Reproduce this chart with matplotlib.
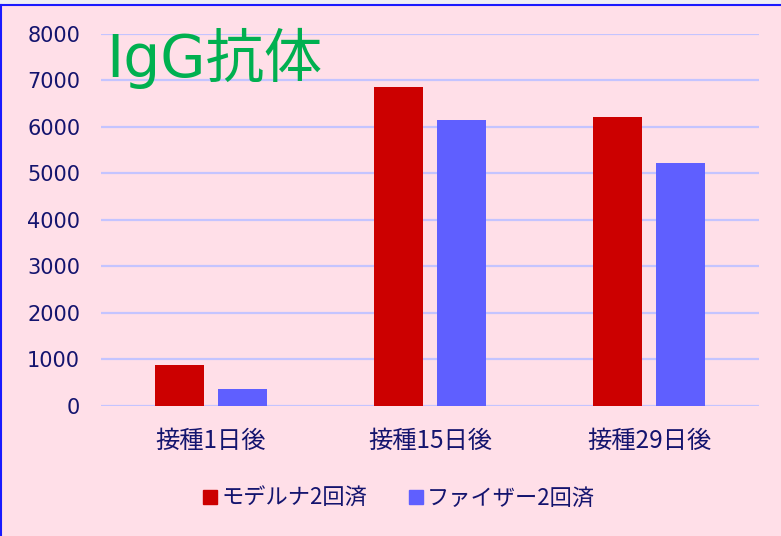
import numpy as np
import matplotlib
matplotlib.use("Agg")
import matplotlib.pyplot as plt
from matplotlib.lines import Line2D
from matplotlib.patches import Rectangle

plt.rcParams['font.family'] = ['Noto Sans CJK JP', 'DejaVu Sans']

# データ
categories = ['接種1日後', '接種15日後', '接種29日後']
moderna = [870, 6860, 6220]
pfizer = [355, 6150, 5225]
series_names = ['モデルナ2回済', 'ファイザー2回済']
yticks = [0, 1000, 2000, 3000, 4000, 5000, 6000, 7000, 8000]

bg = '#FFDFE8'
navy = '#14146E'
red = '#CC0000'
blue = '#5F5FFF'
grid_c = '#C4C4FF'

fig = plt.figure(figsize=(7.81, 5.36), dpi=100, facecolor=bg)
W, H = 781, 536
ax = fig.add_axes([101/W, (H-405.5)/H, (759-101)/W, (405.5-34)/H])
ax.set_facecolor(bg)

x = np.arange(len(categories))
bw = 49/219.5
gap = 14/219.5
ax.bar(x - (bw+gap)/2, moderna, bw, color=red, zorder=3)
ax.bar(x + (bw+gap)/2, pfizer, bw, color=blue, zorder=3)

ax.set_xlim(-0.5, 2.5)
ax.set_ylim(0, 8000)
ax.set_yticks(yticks)
ax.set_yticklabels([str(v) for v in yticks], family=['DejaVu Sans'])
ax.set_xticks(x)
ax.set_xticklabels(categories)
ax.yaxis.grid(True, color=grid_c, lw=1.6, zorder=0)
ax.tick_params(axis='y', length=0, pad=15, labelsize=15, labelcolor=navy)
ax.tick_params(axis='x', length=0, pad=16, labelsize=17.5, labelcolor=navy)
for s in ax.spines.values():
    s.set_visible(False)

# タイトル
fig.text(106/W, (H-58)/H, 'IgG抗体', color='#00B050', fontsize=42,
         va='center', ha='left', family=['DejaVu Sans', 'Noto Sans CJK JP'])

# 凡例
handles = [Line2D([], [], marker='s', ls='', color=red, markersize=10),
           Line2D([], [], marker='s', ls='', color=blue, markersize=10)]
fig.legend(handles, series_names, loc='center', bbox_to_anchor=(398/W, (H-498)/H),
           ncol=2, frameon=False, fontsize=16, labelcolor=navy,
           handletextpad=0.1, columnspacing=1.8, handlelength=0.8)

# 枠線
fig.patches.append(Rectangle((0, (H-4)/H), 1, 4/H, transform=fig.transFigure,
                             color='#EEF0F4', zorder=0))
fig.lines.append(Line2D([0, 1], [(H-4.5)/H]*2, transform=fig.transFigure,
                        color='#1A1AFF', lw=1.5))
fig.lines.append(Line2D([0.7/W]*2, [0, (H-4.5)/H], transform=fig.transFigure,
                        color='#1A1AFF', lw=1.5))

fig.savefig('out.png', dpi=100, facecolor=bg)
